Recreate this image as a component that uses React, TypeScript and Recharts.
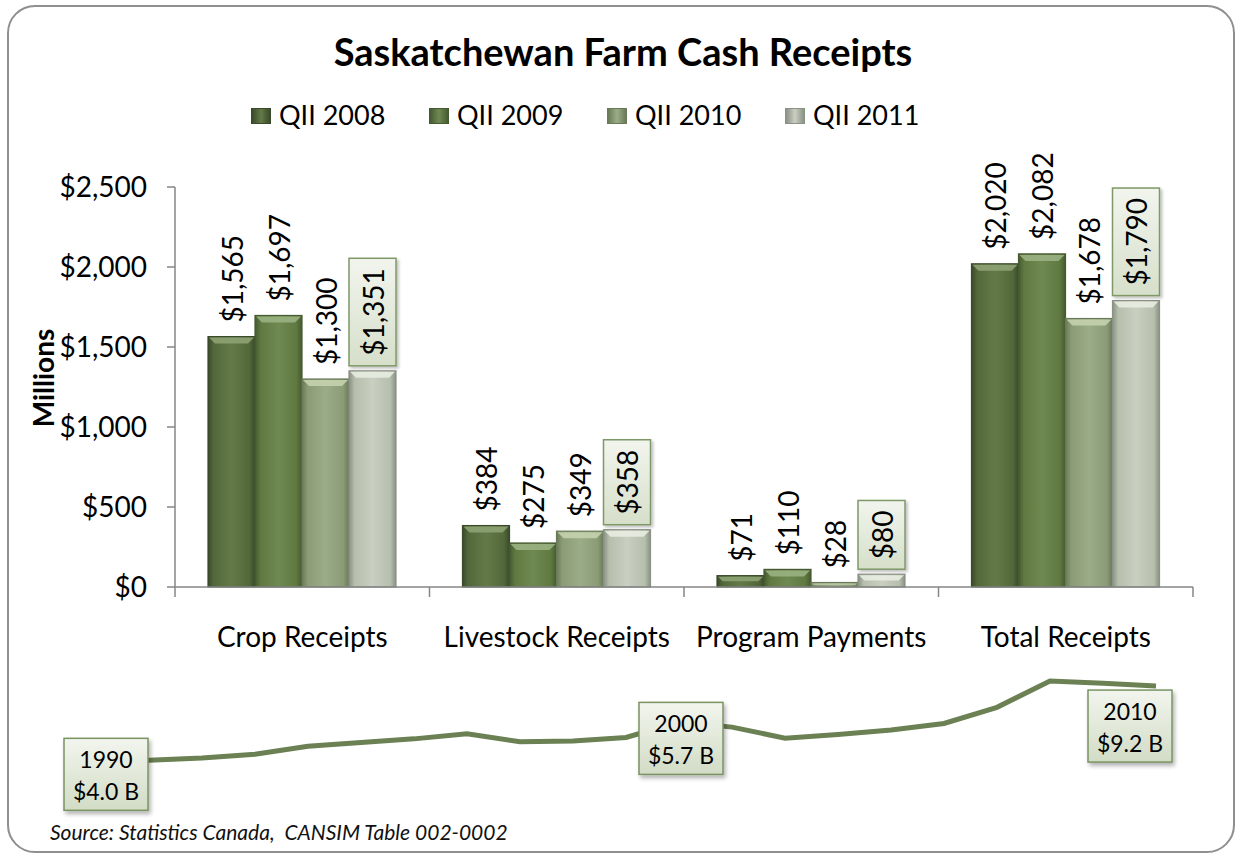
import React from 'react';
import { BarChart, Bar, XAxis, YAxis, LabelList, LineChart, Line } from 'recharts';

// bar chart data (millions of dollars)
const categories = ['Crop Receipts', 'Livestock Receipts', 'Program Payments', 'Total Receipts'];
const seriesNames = ['QII 2008', 'QII 2009', 'QII 2010', 'QII 2011'];
const q2008 = [1565, 384, 71, 2020];
const q2009 = [1697, 275, 110, 2082];
const q2010 = [1300, 349, 28, 1678];
const q2011 = [1351, 358, 80, 1790];
const yTicks = [0, 500, 1000, 1500, 2000, 2500];

// annual receipts trend (billions)
const years = [1990, 1991, 1992, 1993, 1994, 1995, 1996, 1997, 1998, 1999, 2000,
  2001, 2002, 2003, 2004, 2005, 2006, 2007, 2008, 2009, 2010];
const annualReceipts = [4.0, 4.15, 4.3, 4.55, 5.1, 5.35, 5.6, 5.95, 5.4, 5.45, 5.7,
  6.75, 6.4, 5.65, 5.9, 6.2, 6.65, 7.75, 9.55, 9.4, 9.2];
const labelledYears = [1990, 2000, 2010];

const FONT = "Lato, 'Open Sans', sans-serif";
const AXIS = '#868686';
const W = 1238;
const PLOT_LEFT = 175;
const PLOT_RIGHT = 1193;
const LABEL_SIZE = 28;

const palette = [
  { edge: '#3a4a2b', mid: '#53683a', light: '#637a48', bevel: '#8ea273' },
  { edge: '#455a31', mid: '#5f7941', light: '#6f8952', bevel: '#9ab182' },
  { edge: '#6a7a59', mid: '#8a9b76', light: '#9bad88', bevel: '#c5d2ae' },
  { edge: '#8a9185', mid: '#b6beac', light: '#c9cfc1', bevel: '#e8ece2' },
];

const seriesData = [q2008, q2009, q2010, q2011];
const barData = categories.map((name, i) => ({
  name,
  q2008: q2008[i],
  q2009: q2009[i],
  q2010: q2010[i],
  q2011: q2011[i],
}));
const seriesKeys = ['q2008', 'q2009', 'q2010', 'q2011'];

const lineData = years.map((year, i) => ({ year, value: annualReceipts[i] }));

const money = (v: number) => '$' + v.toLocaleString('en-US');

let measureCtx: CanvasRenderingContext2D | null = null;
function textWidth(text: string, font: string) {
  if (!measureCtx) measureCtx = document.createElement('canvas').getContext('2d');
  if (!measureCtx) return text.length * 15;
  measureCtx.font = font;
  return measureCtx.measureText(text).width;
}

const BevelBar = (props: any) => {
  const { x, y, width, height, s } = props;
  if (!height || height <= 0) return null;
  const c = palette[s];
  const b = Math.min(7, height / 2);
  return (
    <g>
      <rect x={x} y={y} width={width} height={height} fill={`url(#barGrad${s})`} stroke={c.edge} strokeWidth={1.2} />
      <polygon
        points={`${x + 1},${y + 1} ${x + width - 1},${y + 1} ${x + width - b},${y + b} ${x + b},${y + b}`}
        fill={c.bevel}
        opacity={0.9}
      />
    </g>
  );
};

const valueLabel = (boxed: boolean) => (p: any) => {
  const x = Number(p.x);
  const y = Number(p.y);
  const width = Number(p.width);
  const cx = x + width / 2;
  const text = money(Number(p.value));
  if (!boxed) {
    return (
      <text transform={`translate(${cx},${y - 14}) rotate(-90)`} textAnchor="start" dominantBaseline="central"
        fontSize={LABEL_SIZE} fontFamily={FONT} fill="#000">{text}</text>
    );
  }
  const len = textWidth(text, `${LABEL_SIZE}px ${FONT}`) + 20;
  const bottom = y - 5;
  return (
    <g>
      <rect x={x} y={bottom - len} width={width} height={len} fill="url(#labelBox)" stroke="#7f9868"
        strokeWidth={1.5} filter="url(#softShadow)" />
      <text transform={`translate(${cx},${bottom - 10}) rotate(-90)`} textAnchor="start" dominantBaseline="central"
        fontSize={LABEL_SIZE} fontFamily={FONT} fill="#000">{text}</text>
    </g>
  );
};

const CategoryTick = (p: any) => {
  const { x, y, payload, index } = p;
  const half = (PLOT_RIGHT - PLOT_LEFT) / categories.length / 2;
  return (
    <g>
      <line x1={x - half} x2={x - half} y1={y - 10} y2={y} stroke={AXIS} strokeWidth={1.5} />
      {index === categories.length - 1 && (
        <line x1={x + half} x2={x + half} y1={y - 10} y2={y} stroke={AXIS} strokeWidth={1.5} />
      )}
      <text x={x} y={y + 50} textAnchor="middle" fontSize={LABEL_SIZE} fontFamily={FONT} fill="#000">{payload.value}</text>
    </g>
  );
};

const MillionsLabel = (p: any) => {
  const vb = p.viewBox || {};
  const cx = vb.x - 52;
  const cy = vb.y + vb.height / 2 - 9;
  return (
    <text transform={`translate(${cx},${cy}) rotate(-90)`} textAnchor="middle" dominantBaseline="central"
      fontSize={28} fontWeight="bold" fontFamily={FONT} fill="#000">Millions</text>
  );
};

// offsets of the year boxes from their point (top-left corner)
const boxOffsets: Record<number, [number, number]> = { 1990: [-32, -24], 2000: [13, -35], 2010: [-68, 4] };

const YearBox = (p: any) => {
  const year = years[p.index];
  if (!labelledYears.includes(year)) return null;
  const [dx, dy] = boxOffsets[year];
  const bx = Number(p.x) + dx;
  const by = Number(p.y) + dy;
  const w = 84;
  const h = 72;
  return (
    <g>
      <rect x={bx} y={by} width={w} height={h} fill="url(#yearBox)" stroke="#7a9363" strokeWidth={1.5}
        filter="url(#yearShadow)" />
      <text x={bx + w / 2} y={by + 21} textAnchor="middle" dominantBaseline="central" fontSize={23}
        fontFamily={FONT} fill="#000">{year}</text>
      <text x={bx + w / 2} y={by + 53} textAnchor="middle" dominantBaseline="central" fontSize={23}
        fontFamily={FONT} fill="#000">{`$${Number(p.value).toFixed(1)} B`}</text>
    </g>
  );
};

export default function App() {
  return (
    <div style={{ position: 'relative', width: W, height: 856, background: '#fff', fontFamily: FONT, overflow: 'hidden' }}>
      <style>{'body{margin:0}'}</style>
      <div style={{
        position: 'absolute', left: 7, top: 5, width: 1228, height: 848, boxSizing: 'border-box',
        border: '2px solid #8f8f8f', borderRadius: 28,
      }} />
      <div style={{
        position: 'absolute', left: 4, top: 32, width: W, textAlign: 'center', fontSize: 38,
        lineHeight: '38px', fontWeight: 'bold', color: '#000',
      }}>Saskatchewan Farm Cash Receipts</div>

      {seriesNames.map((name, i) => (
        <div key={name} style={{ position: 'absolute', left: 251 + i * 178, top: 101, height: 27 }}>
          <div style={{
            position: 'absolute', left: 0, top: 7, width: 20, height: 16, boxSizing: 'border-box',
            border: `1px solid ${palette[i].edge}`,
            background: `linear-gradient(to right, ${palette[i].edge}, ${palette[i].light} 50%, ${palette[i].edge})`,
          }} />
          <div style={{ position: 'absolute', left: 28, top: 0, fontSize: 27, lineHeight: '27px', whiteSpace: 'nowrap', color: '#000' }}>
            {name}
          </div>
        </div>
      ))}

      <div style={{ position: 'absolute', left: 0, top: 0 }}>
        <BarChart width={W} height={660} data={barData} barGap={0} barCategoryGap={33}
          margin={{ top: 187, right: W - PLOT_RIGHT, bottom: 13, left: PLOT_LEFT - 80 }}>
          <defs>
            {palette.map((c, i) => (
              <linearGradient key={i} id={`barGrad${i}`} x1="0" y1="0" x2="1" y2="0">
                <stop offset="0%" stopColor={c.edge} />
                <stop offset="12%" stopColor={c.mid} />
                <stop offset="50%" stopColor={c.light} />
                <stop offset="88%" stopColor={c.mid} />
                <stop offset="100%" stopColor={c.edge} />
              </linearGradient>
            ))}
            <linearGradient id="labelBox" x1="0" y1="0" x2="0" y2="1">
              <stop offset="0%" stopColor="#f2f5ee" />
              <stop offset="100%" stopColor="#d6dfca" />
            </linearGradient>
            <filter id="softShadow" x="-20%" y="-20%" width="150%" height="150%">
              <feDropShadow dx="2" dy="2" stdDeviation="1.5" floodColor="#000" floodOpacity="0.25" />
            </filter>
          </defs>
          <XAxis dataKey="name" axisLine={{ stroke: AXIS, strokeWidth: 1.5 }} tickLine={false} tickSize={10}
            tickMargin={0} height={60} tick={<CategoryTick />} interval={0} />
          <YAxis width={80} domain={[0, 2500]} ticks={yTicks} tickFormatter={money} tickSize={8} tickMargin={20}
            axisLine={{ stroke: AXIS, strokeWidth: 1.5 }} tickLine={{ stroke: AXIS, strokeWidth: 1.5 }}
            tick={{ fontSize: LABEL_SIZE, fill: '#000', fontFamily: FONT }} label={<MillionsLabel />} />
          {seriesKeys.map((k, i) => (
            <Bar key={k} dataKey={k} name={seriesNames[i]} isAnimationActive={false}
              shape={(p: any) => <BevelBar {...p} s={i} />}>
              <LabelList dataKey={k} content={valueLabel(i === seriesData.length - 1)} />
            </Bar>
          ))}
        </BarChart>
      </div>

      <div style={{ position: 'absolute', left: 0, top: 660 }}>
        <LineChart width={W} height={165} data={lineData} margin={{ top: 7, right: 82, bottom: 48, left: 96 }}>
          <defs>
            <linearGradient id="yearBox" x1="0" y1="0" x2="0" y2="1">
              <stop offset="0%" stopColor="#f2f5ee" />
              <stop offset="100%" stopColor="#d2dcc5" />
            </linearGradient>
            <filter id="yearShadow" x="-20%" y="-20%" width="150%" height="150%">
              <feDropShadow dx="2" dy="3" stdDeviation="2" floodColor="#000" floodOpacity="0.3" />
            </filter>
          </defs>
          <XAxis dataKey="year" hide />
          <YAxis hide domain={[3, 10.5]} />
          <Line dataKey="value" stroke="#6b8053" strokeWidth={5} dot={false} isAnimationActive={false}>
            <LabelList dataKey="value" content={<YearBox />} />
          </Line>
        </LineChart>
      </div>

      <div style={{
        position: 'absolute', left: 50, top: 821, fontSize: 21, lineHeight: '21px', fontStyle: 'italic',
        color: '#111', whiteSpace: 'nowrap',
      }}>Source: Statistics Canada,&nbsp; CANSIM Table 002-0002</div>
    </div>
  );
}
